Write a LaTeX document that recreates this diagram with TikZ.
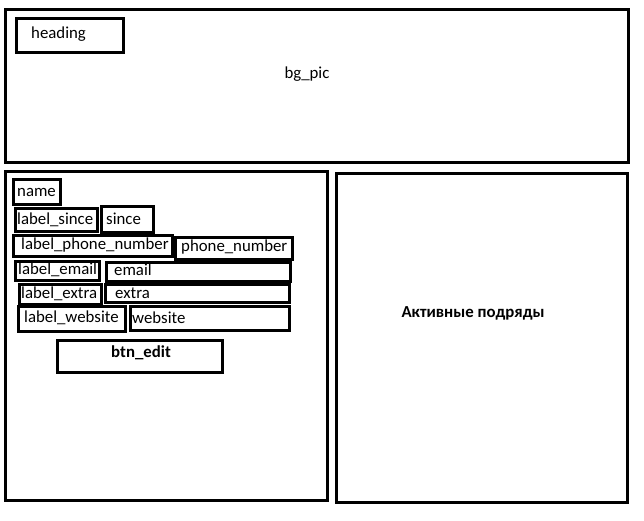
\documentclass[tikz,border=0pt]{standalone}
\usepackage{fontspec}
\setmainfont{Carlito}
\usetikzlibrary{positioning}

\begin{document}
\begin{tikzpicture}[x=1pt, y=-1pt,
    frame/.style = {draw, line width=3pt},
    txt/.style = {inner sep=0pt, font=\fontsize{16.8}{19}\selectfont},
    txtl/.style = {txt, anchor=west},
    bold/.style = {txt, font=\fontsize{16.8}{19}\selectfont\bfseries}]
    \useasboundingbox (0, 0) rectangle (644, 520);

    % main areas
    \draw [frame] (5, 9) rectangle (628, 162);
    \draw [frame] (5, 171) rectangle (327, 500);
    \draw [frame] (336, 173) rectangle (627, 502);

    \node [txt] (bg_pic) at (307, 74) {bg\_pic};
    \node [bold] (podryady) at (473, 313) {Активные подряды};

    % heading
    \draw [frame] (16, 18) rectangle (123, 52);
    \node [txtl] (heading) at (31, 34) {heading};

    % labels and values
    \draw [frame] (13, 179) rectangle (60, 204);
    \node [txtl] (name) at (17, 192) {name};

    \draw [frame] (15, 208) rectangle (97, 231);
    \node [txtl] (label_since) at (17, 220) {label\_since};
    \draw [frame] (101, 206) rectangle (153, 232);
    \node [txtl] (since) at (106, 219) {since};

    \draw [frame] (13, 235) rectangle (172, 256);
    \node [txtl] (label_phone) at (21, 245) {label\_phone\_number};
    \draw [frame] (175, 237) rectangle (292, 259);
    \node [txtl] (phone) at (181, 247) {phone\_number};

    \draw [frame] (15, 261) rectangle (99, 280);
    \node [txtl] (label_email) at (18, 270) {label\_email};
    \draw [frame] (106, 262) rectangle (290, 281);
    \node [txtl] (email) at (114, 270) {email};

    \draw [frame] (19, 284) rectangle (101, 304);
    \node [txtl] (label_extra) at (21, 294) {label\_extra};
    \draw [frame] (105, 284) rectangle (289, 302);
    \node [txtl] (extra) at (115, 293) {extra};

    \draw [frame] (18, 306) rectangle (125, 331);
    \node [txtl] (label_website) at (24, 318) {label\_website};
    \draw [frame] (130, 306) rectangle (289, 330);
    \node [txtl] (website) at (132, 318) {website};

    % button
    \draw [frame] (57, 340) rectangle (222, 372);
    \node [bold] (btn_edit) at (141, 353) {btn\_edit};
\end{tikzpicture}
\end{document}
